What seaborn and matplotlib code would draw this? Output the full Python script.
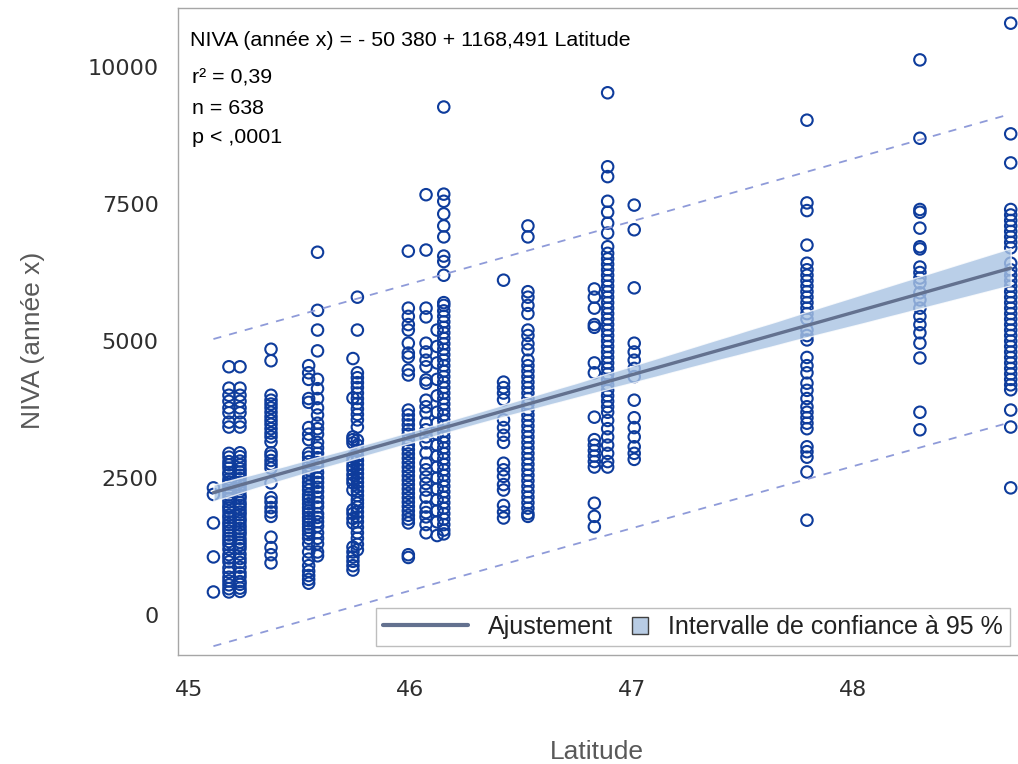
import numpy as np
import pandas as pd
import seaborn as sns
import matplotlib.pyplot as plt
from matplotlib.lines import Line2D
from matplotlib.patches import Patch, Rectangle
from matplotlib.legend_handler import HandlerPatch

# latitude (degrees N) of every column of sites
lat_cols = [45.11, 45.18, 45.23, 45.37, 45.54, 45.58, 45.74, 45.76, 45.99, 46.07,
            46.12, 46.15, 46.42, 46.53, 46.83, 46.89, 47.01, 47.79, 48.30, 48.71]

# NIVA values, one list per latitude column
niva_45_11 = [2320, 2200, 1680, 1060, 420]
niva_45_18 = [4530, 4140, 4010, 3900, 3780, 3690, 3520, 3430, 2950, 2880, 2800, 2740,
              2680, 2600, 2560, 2480, 2430, 2380, 2320, 2250, 2190, 2120, 2060, 1990,
              1950, 1890, 1820, 1770, 1700, 1650, 1590, 1530, 1460, 1400, 1340, 1280,
              1200, 1100, 1040, 970, 860, 780, 690, 620, 550, 480, 420]
niva_45_23 = [4530, 4140, 4010, 3900, 3780, 3690, 3520, 3430, 2960, 2890, 2810, 2740,
              2670, 2610, 2550, 2490, 2420, 2370, 2310, 2260, 2180, 2130, 2050, 2000,
              1940, 1880, 1830, 1760, 1710, 1640, 1580, 1520, 1470, 1390, 1330, 1270,
              1210, 1110, 1030, 960, 870, 770, 700, 610, 560, 490, 430]
niva_45_37 = [4850, 4640, 4010, 3920, 3850, 3780, 3700, 3620, 3550, 3480, 3400, 3320,
              3250, 3160, 2960, 2900, 2820, 2750, 2680, 2410, 2140, 2060, 1960, 1880,
              1800, 1420, 1230, 1100, 950]
niva_45_54 = [4550, 4420, 4300, 3950, 3880, 3420, 3300, 3200, 2950, 2880, 2800, 2720,
              2650, 2580, 2500, 2420, 2350, 2280, 2200, 2150, 2100, 2030, 1960, 1900,
              1850, 1780, 1720, 1660, 1600, 1540, 1470, 1400, 1300, 1150, 1020, 900,
              800, 720, 650, 580]
niva_45_58 = [6620, 5560, 5200, 4820, 4300, 4130, 3950, 3780, 3650, 3500, 3400, 3300,
              3150, 3050, 2950, 2870, 2780, 2700, 2600, 2500, 2420, 2330, 2250, 2150,
              2050, 1970, 1850, 1780, 1700, 1620, 1500, 1400, 1300, 1150, 1080]
niva_45_74 = [4680, 3960, 3250, 3200, 3140, 2880, 2800, 2720, 2650, 2560, 2480, 2410,
              2280, 1920, 1850, 1760, 1680, 1240, 1150, 1060, 980, 900, 820]
niva_45_76 = [5800, 5200, 4420, 4330, 4240, 4150, 4050, 3950, 3860, 3760, 3660, 3560,
              3430, 3190, 3100, 3000, 2900, 2820, 2740, 2660, 2580, 2500, 2420, 2340,
              2260, 2180, 2100, 2040, 1970, 1880, 1790, 1700, 1600, 1500, 1400, 1290, 1190]
niva_45_99 = [6640, 5600, 5450, 5300, 5200, 4960, 4780, 4710, 4470, 4380, 3740, 3650,
              3560, 3470, 3380, 3300, 3200, 3100, 3020, 2940, 2860, 2780, 2700, 2620,
              2540, 2460, 2380, 2300, 2220, 2140, 2060, 1980, 1900, 1820, 1750, 1680,
              1100, 1050]
niva_46_07 = [7670, 6660, 5600, 5440, 4960, 4800, 4650, 4530, 4290, 4230, 3920, 3800,
              3690, 3500, 3380, 3250, 3140, 2960, 2770, 2650, 2520, 2400, 2280, 2150,
              1970, 1870, 1790, 1650, 1500]
niva_46_12 = [5200, 4900, 4600, 4300, 4000, 3700, 3500, 3300, 3100, 2900, 2700, 2500,
              2300, 2100, 1900, 1700, 1450]
niva_46_15 = [9270, 7680, 7550, 7320, 7100, 6900, 6550, 6450, 6200, 5700, 5650, 5550,
              5450, 5350, 5250, 5150, 5050, 4950, 4850, 4750, 4650, 4550, 4450, 4350,
              4250, 4150, 4050, 3950, 3850, 3750, 3650, 3550, 3450, 3350, 3250, 3150,
              3050, 2950, 2850, 2750, 2650, 2550, 2450, 2350, 2250, 2150, 2050, 1950,
              1850, 1750, 1650, 1550, 1480]
niva_46_42 = [6110, 4250, 4150, 4050, 3930, 3560, 3420, 3280, 3150, 2770, 2650, 2530,
              2380, 2280, 2000, 1880, 1770]
niva_46_53 = [7100, 6900, 5900, 5800, 5650, 5500, 5200, 5100, 4950, 4840, 4650, 4550,
              4450, 4350, 4250, 4150, 4050, 3950, 3850, 3750, 3650, 3550, 3450, 3350,
              3250, 3150, 3050, 2950, 2850, 2750, 2650, 2550, 2450, 2350, 2250, 2150,
              2050, 1950, 1850, 1800]
niva_46_83 = [5950, 5800, 5600, 5300, 5250, 4600, 4420, 3610, 3200, 3100, 3000, 2900,
              2800, 2700, 2040, 1800, 1610]
niva_46_89 = [9530, 8180, 8000, 7550, 7350, 7150, 6970, 6720, 6600, 6500, 6400, 6300,
              6200, 6100, 6000, 5900, 5800, 5700, 5600, 5500, 5400, 5300, 5200, 5100,
              5000, 4900, 4800, 4700, 4600, 4500, 4400, 4300, 4200, 4100, 4000, 3900,
              3800, 3700, 3550, 3400, 3250, 3100, 2950, 2800, 2700]
niva_47_01 = [7480, 7030, 5970, 4960, 4800, 4650, 4500, 4350, 3920, 3600, 3420, 3250,
              3070, 2950, 2840]
niva_47_79 = [9030, 7520, 7380, 6750, 6420, 6300, 6200, 6100, 6000, 5900, 5800, 5700,
              5600, 5500, 5400, 5200, 5100, 5020, 4700, 4550, 4420, 4230, 4100, 3950,
              3800, 3700, 3600, 3500, 3400, 3070, 2980, 2880, 2610, 1730]
niva_48_30 = [10130, 8700, 7400, 7350, 7060, 6720, 6680, 6350, 6250, 6150, 6060, 5880,
              5750, 5600, 5450, 5300, 5150, 4960, 4690, 3700, 3380]
niva_48_71 = [10800, 8780, 8250, 7400, 7300, 7200, 7100, 7000, 6900, 6800, 6700, 6420,
              6300, 6200, 6100, 6000, 5900, 5800, 5700, 5600, 5500, 5400, 5300, 5200,
              5100, 5000, 4900, 4800, 4700, 4600, 4500, 4400, 4300, 4200, 4110, 3740,
              3430, 2320]

niva_cols = [niva_45_11, niva_45_18, niva_45_23, niva_45_37, niva_45_54, niva_45_58,
             niva_45_74, niva_45_76, niva_45_99, niva_46_07, niva_46_12, niva_46_15,
             niva_46_42, niva_46_53, niva_46_83, niva_46_89, niva_47_01, niva_47_79,
             niva_48_30, niva_48_71]

y_ticks = [0, 2500, 5000, 7500, 10000]
x_ticks = [45, 46, 47, 48]

df = pd.DataFrame({
    "Latitude": np.repeat(lat_cols, [len(v) for v in niva_cols]),
    "NIVA": np.concatenate(niva_cols),
})

sns.set_style("white")
plt.rcParams['font.family'] = ['Liberation Sans', 'DejaVu Sans']

fig = plt.figure(figsize=(10.18, 7.64), dpi=100)
ax = fig.add_axes([178 / 1018, 109 / 764, 844 / 1018, 647 / 764])

# open circles
sns.scatterplot(data=df, x="Latitude", y="NIVA", ax=ax, marker="o", s=68,
                facecolors="none", edgecolor="#0E3C9C", linewidth=1.5, zorder=2)

# fitted line + 95% confidence band
sns.regplot(data=df, x="Latitude", y="NIVA", ax=ax, scatter=False, ci=95, seed=1,
            color="#63718F", line_kws={"linewidth": 2.4, "zorder": 4})
band = ax.collections[-1]
band.set_facecolor("#A9C3E3")
band.set_alpha(0.8)
band.set_zorder(3)

# 95% prediction limits (dashed)
x = df["Latitude"].to_numpy()
y = df["NIVA"].to_numpy()
n = len(x)
slope, intercept = np.polyfit(x, y, 1)
s_res = np.sqrt(np.sum((y - (intercept + slope * x)) ** 2) / (n - 2))
xs = np.linspace(x.min(), x.max(), 200)
se_pred = s_res * np.sqrt(1 + 1 / n + (xs - x.mean()) ** 2 / np.sum((x - x.mean()) ** 2))
for sign in (1, -1):
    ax.plot(xs, intercept + slope * xs + sign * 1.964 * se_pred, color="#8F9BD9",
            lw=1.3, ls=(0, (4.5, 4.5)), zorder=3)

ax.set_xlim(44.950, 48.761)
ax.set_ylim(-730, 11077)
ax.set_xticks(x_ticks)
ax.set_yticks(y_ticks)
ax.tick_params(axis="both", direction="out", color="#8C8C8C", width=1,
               labelcolor="#2E2E2E", labelsize=16)
ax.tick_params(axis="y", length=8, pad=6)
ax.tick_params(axis="x", length=6, pad=12)
for lab in ax.get_xticklabels() + ax.get_yticklabels():
    lab.set_family("DejaVu Sans")

for side in ["left", "bottom", "top", "right"]:
    ax.spines[side].set_color("#A6A6A6")
    ax.spines[side].set_linewidth(1)

ax.set_xlabel("Latitude", fontsize=19, color="#595959")
ax.set_ylabel("NIVA (année x)", fontsize=19, color="#595959")
ax.xaxis.set_label_coords(0.4964, -0.132)
ax.yaxis.set_label_coords(-0.158, 0.487)

# regression summary
ax.text(0.0142, 0.9505, "NIVA (année x) = - 50 380 + 1168,491 Latitude",
        transform=ax.transAxes, fontsize=15.4, va="center", ha="left", color="black")
for ypos, txt in [(0.8918, "r² = 0,39"), (0.8454, "n = 638"), (0.7991, "p < ,0001")]:
    ax.text(0.017, ypos, txt, transform=ax.transAxes, fontsize=15.4,
            va="center", ha="left", color="black")


def square_patch(legend, orig_handle, xdescent, ydescent, width, height, fontsize):
    side = 0.66 * fontsize
    return Rectangle((-xdescent + width - side, -ydescent + (height - side) / 2),
                     side, side)


line_h = Line2D([], [], color="#63718F", lw=3)
patch_h = Patch(facecolor="#B8CCE4", edgecolor="#404040", lw=1)
leg = ax.legend([line_h, patch_h], ["Ajustement", "Intervalle de confiance à 95 %"],
                handler_map={Patch: HandlerPatch(patch_func=square_patch)},
                ncol=2, loc="lower right", bbox_to_anchor=(1010 / 1018, 118 / 764),
                bbox_transform=fig.transFigure, borderaxespad=0, frameon=True,
                fancybox=False, edgecolor="#BEBEBE", framealpha=1, fontsize=18,
                handlelength=3.4, handletextpad=0.8, columnspacing=-2.0,
                borderpad=0.28)
leg.get_frame().set_linewidth(1.0)
for t in leg.get_texts():
    t.set_color("#222222")

fig.savefig("out.png", dpi=100)
